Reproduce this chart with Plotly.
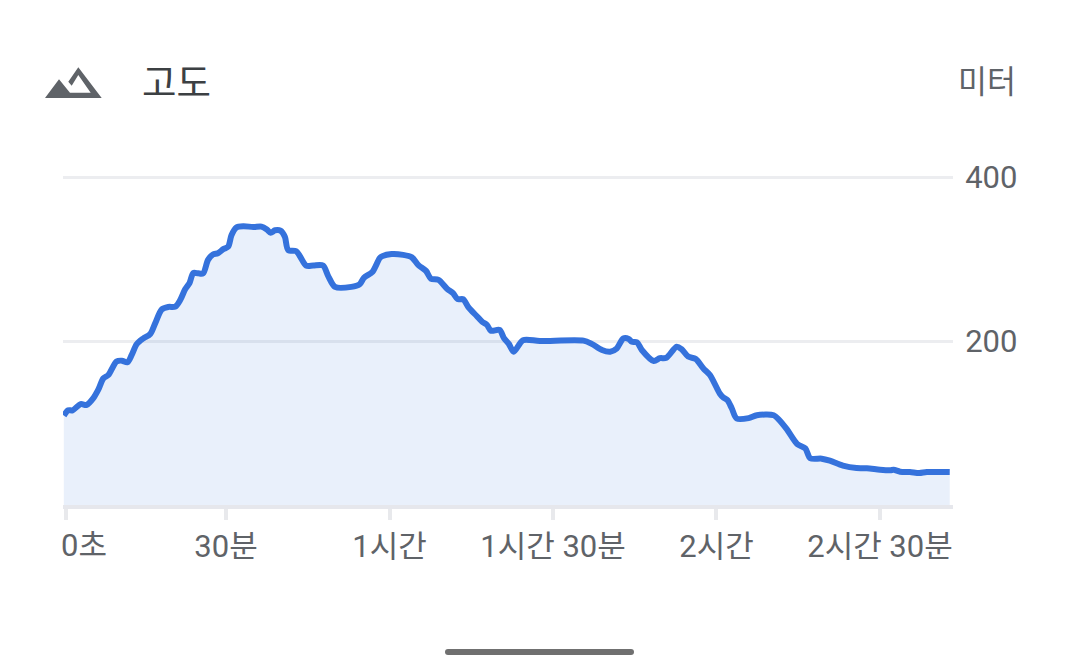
import plotly.graph_objects as go

W, H = 1080, 671

# Elapsed time (minutes) and elevation (metres)
minutes = [0.24,1.04,1.84,3.33,4.43,5.62,6.52,7.51,8.41,9.91,10.9,11.9,12.7,13.6,14.8,16.1,17.0,18.2,19.4,20.7,
           21.6,22.5,23.3,24.0,24.9,25.8,26.7,27.6,28.5,29.5,30.4,31.0,31.9,33.2,35.0,36.5,37.5,38.2,39.0,40.0,
           40.8,41.4,42.9,43.6,44.7,46.0,47.8,48.8,50.0,53.0,54.5,55.3,56.9,58.2,58.7,60.4,62.5,64.1,65.3,66.7,
           67.6,69.0,70.6,71.7,72.5,73.5,74.5,76.0,77.0,77.9,78.6,80.2,81.0,81.9,82.8,84.5,87.6,95.6,97.1,99.0,
           100.5,101.7,102.9,103.9,104.5,105.4,106.3,108.5,109.6,110.8,112.7,113.6,114.8,116.2,117.6,118.8,120.6,121.2,122.0,122.8,
           123.7,125.9,127.4,130.5,131.4,132.9,134.8,136.3,137.2,139.3,140.8,143.2,145.7,147.6,150.0,151.9,152.5,153.7,155.5,157.2,
           158.6,162.8]
elevation = [109,115.5,115.5,123,122,130,140,154.5,158.5,175,176,174,183,196,203,208.5,221.5,238.5,241.5,242,
             250,263,270.5,283,282.5,282.5,299,305.5,307,312,315,329,338.5,340,339,339.5,336,332,335,334.5,
             327,311,309.5,303,292,292,292,278.5,266,266,269,277,284.5,301,303.5,306,305,302,292.5,285.5,
             276,274.5,263.5,258,251,251,241,230.5,223.5,219.5,212.5,213.5,203.5,196.5,187,201,200,200.5,196.5,189,
             187,191,203,202.5,199,198.5,189,175.5,179,179.5,193,190,181,178,166.5,158.5,136,131.5,128,118,
             105.5,106,109.5,109.5,104.5,92.5,74.5,69,57,56.5,54,48,45,44.8,43,42.3,43,40.6,40.2,39,
             40.2,40.2]

x_tick_values = [0.55, 30, 60, 90, 120, 150]
x_tick_labels = ["", "30분", "1시간", "1시간 30분", "2시간", "2시간 30분"]
first_tick_label = "0초"
y_tick_values = [200, 400]
title_text = "고도"
unit_text = "미터"

FONT = "Roboto, 'Noto Sans CJK KR', sans-serif"
GREY = "#5f6368"
DARK = "#3c4043"
BLUE = "#3572dc"
RULE = "#ecedf0"


def px(x):
    return x / W


def py(y):
    return 1 - y / H


def path(points):
    return "M" + " L".join(f"{px(a):.5f},{py(b):.5f}" for a, b in points) + " Z"


icon = [(45, 98), (59, 79.3), (70, 92.7), (90.7, 92.7), (78.3, 75), (71.7, 85.7),
        (68.3, 81.7), (78.3, 67.3), (101.7, 98)]

handle = (f"M{px(448):.5f},{py(649):.5f} L{px(631):.5f},{py(649):.5f} "
          f"Q{px(634):.5f},{py(649):.5f} {px(634):.5f},{py(652):.5f} "
          f"Q{px(634):.5f},{py(655):.5f} {px(631):.5f},{py(655):.5f} "
          f"L{px(448):.5f},{py(655):.5f} "
          f"Q{px(445):.5f},{py(655):.5f} {px(445):.5f},{py(652):.5f} "
          f"Q{px(445):.5f},{py(649):.5f} {px(448):.5f},{py(649):.5f} Z")

fig = go.Figure(go.Scatter(
    x=minutes, y=elevation, mode="lines",
    line=dict(color=BLUE, width=6, shape="spline", smoothing=0.8),
    fill="tozeroy", fillcolor="rgba(53,114,220,0.11)",
    hoverinfo="skip", showlegend=False,
))

fig.update_layout(
    width=W, height=H, autosize=False,
    margin=dict(l=0, r=0, t=0, b=0, autoexpand=False),
    paper_bgcolor="white", plot_bgcolor="white",
    font=dict(family=FONT, color=GREY, size=31),
    xaxis=dict(
        automargin=False,
        domain=[px(63), px(953)], range=[0.09, 163.4],
        tickvals=x_tick_values, ticktext=x_tick_labels,
        ticks="outside", ticklen=11, tickwidth=4, tickcolor="#e8e9ec",
        showline=True, linewidth=4, linecolor="#e6e7ec",
        showgrid=False, zeroline=False,
        tickfont=dict(family=FONT, size=31, color=GREY),
    ),
    yaxis=dict(
        automargin=False,
        domain=[py(505), py(175.36)], range=[0, 402], side="right",
        tickvals=y_tick_values,
        ticks="outside", ticklen=5, tickcolor="rgba(0,0,0,0)",
        showgrid=True, gridcolor=RULE, gridwidth=3,
        showline=False, zeroline=False,
        tickfont=dict(family=FONT, size=31, color=GREY),
    ),
    shapes=[
        dict(type="path", xref="paper", yref="paper", path=path(icon),
             fillcolor=GREY, line=dict(width=0)),
        dict(type="path", xref="paper", yref="paper", path=handle,
             fillcolor="#707070", line=dict(width=0)),
    ],
    annotations=[
        dict(text=title_text, xref="paper", yref="paper", x=px(140), y=py(83),
             xanchor="left", yanchor="middle", showarrow=False,
             font=dict(family=FONT, size=37.5, color=DARK)),
        dict(text=unit_text, xref="paper", yref="paper", x=px(1018), y=py(83),
             xanchor="right", yanchor="middle", showarrow=False,
             font=dict(family=FONT, size=31.5, color=GREY)),
        dict(text=first_tick_label, xref="paper", yref="paper", x=px(59), y=py(545),
             xanchor="left", yanchor="middle", showarrow=False,
             font=dict(family=FONT, size=31, color=GREY)),
    ],
)

fig.write_html("out.html", config={"displayModeBar": False},
               post_script="document.body.style.margin='0';")
